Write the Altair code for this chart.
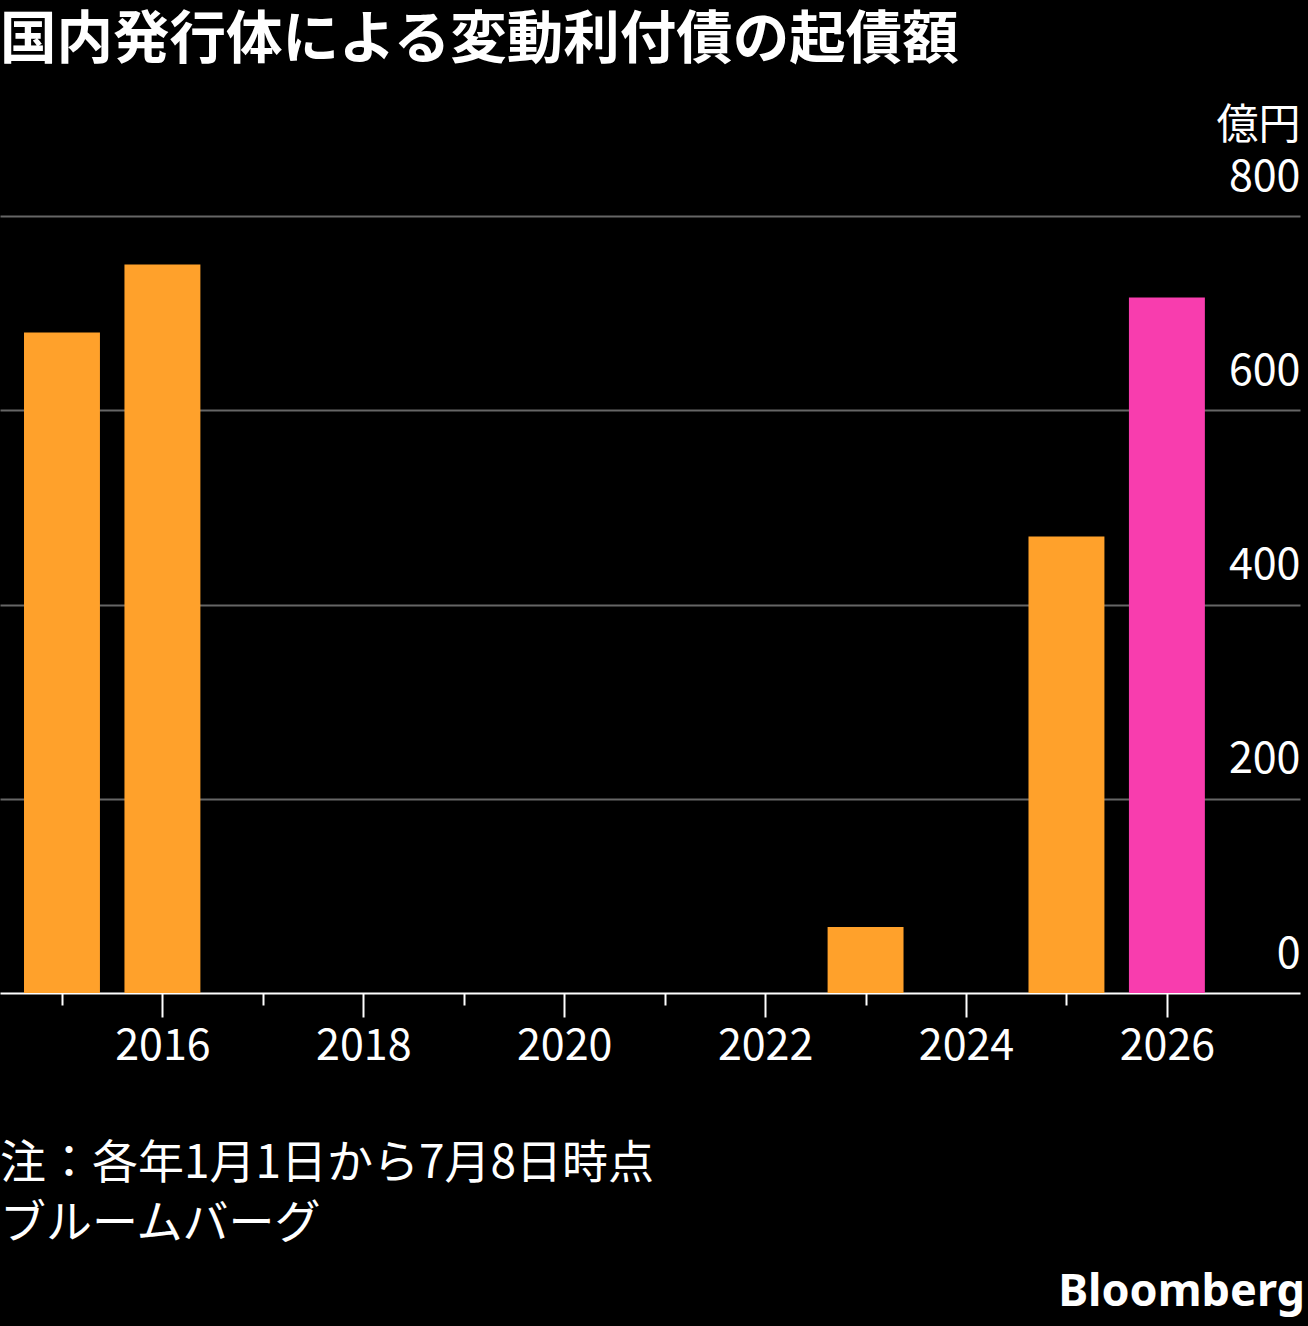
import altair as alt
import pandas as pd

# Issuance of floating-rate bonds by domestic issuers (100 million yen)
years = [2015, 2016, 2023, 2025, 2026]
amounts = [680, 750, 68, 470, 716]

x_ticks = list(range(2015, 2027))
y_ticks = [0, 200, 400, 600, 800]

title_text = "国内発行体による変動利付債の起債額"
unit_text = "億円"
note_text = "注：各年1月1日から7月8日時点"
source_text = "ブルームバーグ"
brand_text = "Bloomberg"

ORANGE = "#FFA12B"
PINK = "#F83DAE"
FONT = "Noto Sans CJK JP"

df = pd.DataFrame({"year": years, "amount": amounts})

W, H = 1300, 777

bars = (
    alt.Chart(df)
    .transform_calculate(x0="datum.year - 0.378", x1="datum.year + 0.378")
    .mark_bar()
    .encode(
        x=alt.X(
            "x0:Q",
            scale=alt.Scale(domain=[2014.383, 2027.325], nice=False, zero=False),
            axis=alt.Axis(
                values=x_ticks,
                labelExpr="datum.value % 2 === 0 ? datum.value : ''",
                tickSize={"expr": "datum.value % 2 === 0 ? 24 : 12"},
                tickColor="white",
                tickWidth=2,
                domainColor="white",
                domainWidth=2,
                labelColor="white",
                labelFont=FONT,
                labelFontSize=43,
                labelBaseline="top",
                labelPadding=8,
                labelFlush=False,
                grid=False,
                title=None,
            ),
        ),
        x2="x1:Q",
        y=alt.Y(
            "amount:Q",
            scale=alt.Scale(domain=[0, 800], nice=False),
            axis=alt.Axis(
                orient="right",
                values=y_ticks,
                ticks=False,
                domain=False,
                grid=True,
                gridColor="#666666",
                gridOpacity={"expr": "datum.value === 0 ? 0 : 1"},
                gridWidth=2,
                labelColor="white",
                labelFont=FONT,
                labelFontSize=43,
                labelAlign="right",
                labelBaseline="alphabetic",
                labelPadding=0,
                labelOffset=-26,
                title=unit_text,
                titleColor="white",
                titleFont=FONT,
                titleFontSize=42,
                titleFontWeight="normal",
                titleAngle=0,
                titleAlign="right",
                titleBaseline="alphabetic",
                titleX=0,
                titleY=-78,
            ),
        ),
        y2=alt.datum(0),
        color=alt.condition(alt.datum.year == 2026, alt.value(PINK), alt.value(ORANGE)),
    )
)


def label(text, x, y, size, weight="normal", align="left", font=FONT):
    return alt.Chart(pd.DataFrame({"t": [text]})).mark_text(
        align=align,
        baseline="alphabetic",
        font=font,
        fontSize=size,
        fontWeight=weight,
        color="white",
    ).encode(text="t:N", x=alt.value(x), y=alt.value(y))


title = label(title_text, 0, -158, 56.5, weight="bold")
note = label(note_text, 0, 962, 46)
source = label(source_text, 0, 1022, 46)
brand = label(brand_text, 1305, 1090, 45, weight="bold", align="right", font="Noto Sans")

chart = (
    alt.layer(bars, title, note, source, brand)
    .properties(
        width=W,
        height=H,
        background="black",
        padding={"left": 0, "top": 216, "right": 8, "bottom": 333},
        autosize=alt.AutoSizeParams(type="none"),
    )
    .configure_view(stroke=None)
)

chart.save("out.html", embed_options={"renderer": "svg", "actions": False})
